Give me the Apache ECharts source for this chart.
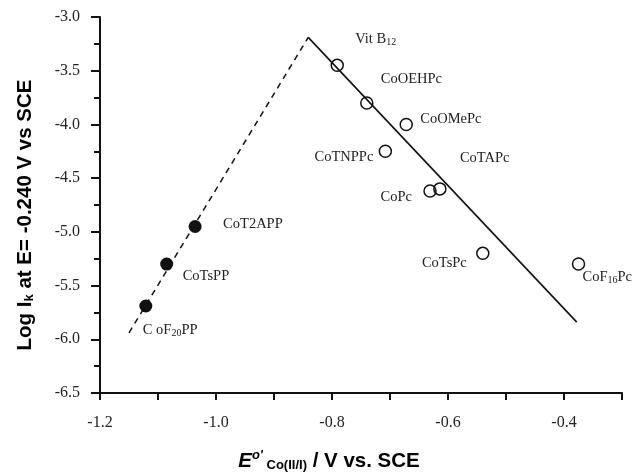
<!DOCTYPE html>
<html><head><meta charset="utf-8">
<script src="https://cdn.jsdelivr.net/npm/echarts@6/dist/echarts.min.js"></script>
<style>html,body{margin:0;padding:0;background:#fff}#c{width:641px;height:474px}</style>
</head><body><div id="c"></div>
<script>
// Porphyrins (filled)
const porphNames = ['CoT2APP', 'CoTsPP', 'C oF{s|20}PP'];
const porphX = [-1.036, -1.085, -1.121];
const porphY = [-4.95, -5.30, -5.69];
// Phthalocyanines etc. (open)
const pcNames = ['Vit B{s|12}', 'CoOEHPc', 'CoOMePc', 'CoTNPPc', 'CoPc', 'CoTAPc', 'CoTsPc', 'CoF{s|16}Pc'];
const pcX = [-0.791, -0.740, -0.672, -0.708, -0.631, -0.614, -0.540, -0.375];
const pcY = [-3.45, -3.80, -4.00, -4.25, -4.62, -4.60, -5.20, -5.30];
// Trend lines
const dashLine = [[-1.15, -5.94], [-0.841, -3.19]];
const solidLine = [[-0.841, -3.19], [-0.378, -5.84]];
// Axis ticks
const xMin = -1.2, xMax = -0.3, xStep = 0.1;
const yMin = -6.5, yMax = -3.0, yStep = 0.5;

// label layout (px offsets from the point, alignment)
const porphLab = [{o:[28,-2],a:'left'},{o:[16,12],a:'left'},{o:[-3,24],a:'left'}];
const pcLab = [{o:[18,-26],a:'left'},{o:[14,-24],a:'left'},{o:[14,-5],a:'left'},{o:[-12,6],a:'right'},
               {o:[-18,6],a:'right'},{o:[20,-31],a:'left'},{o:[-16,10],a:'right'},{o:[4,13],a:'left'}];

const serif = '"Liberation Serif","Times New Roman",serif';
const sans = '"Liberation Sans",Arial,sans-serif';
const richSub = { s: { fontFamily: serif, fontSize: 10, verticalAlign: 'bottom', padding: [6,0,0,0], color:'#222' } };

function build(names, xs, ys, lab) {
  return names.map((n, i) => ({
    value: [xs[i], ys[i]], name: n,
    label: { offset: lab[i].o, align: lab[i].a }
  }));
}
const labelBase = {
  show: true, position: 'inside', verticalAlign: 'middle', formatter: p => p.name,
  fontFamily: serif, fontSize: 14.5, color: '#222', rich: richSub
};

const chart = echarts.init(document.getElementById('c'), null, {renderer: 'canvas'});
chart.setOption({
  animation: false,
  backgroundColor: '#fff',
  grid: { left: 100, right: 19, top: 17, bottom: 81 },
  xAxis: {
    type: 'value', min: xMin, max: xMax, interval: xStep,
    axisLine: { show: true, onZero: false, lineStyle: { color: '#111', width: 2 } },
    axisTick: { show: true, length: 7, lineStyle: { color: '#111', width: 2 } },
    splitLine: { show: false },
    axisLabel: {
      margin: 22, fontFamily: serif, fontSize: 16, color: '#222',
      formatter: v => { const k = Math.round(v * 10); return (k % 2 === 0 && k !== -3) ? (k / 10).toFixed(1) : ''; }
    }
  },
  yAxis: {
    type: 'value', min: yMin, max: yMax, interval: yStep,
    axisLine: { show: true, onZero: false, lineStyle: { color: '#111', width: 2 } },
    axisTick: { show: true, length: 9, lineStyle: { color: '#111', width: 2 } },
    minorTick: { show: true, splitNumber: 2, length: 6, lineStyle: { color: '#111', width: 2 } },
    splitLine: { show: false },
    axisLabel: { margin: 20, fontFamily: serif, fontSize: 16, color: '#222', formatter: v => v.toFixed(1) }
  },
  graphic: [
    { type: 'text', x: 329, y: 461, style: {
        text: '{e|E}{sup|o\'}{sub| Co(II/I)}{m| / V vs. SCE}', align: 'center', verticalAlign: 'middle',
        rich: {
          e: { fontFamily: sans, fontWeight: 'bold', fontStyle: 'italic', fontSize: 20.5, color: '#111' },
          sup: { fontFamily: sans, fontWeight: 'bold', fontStyle: 'italic', fontSize: 13, color: '#111', padding: [0,0,12,0] },
          sub: { fontFamily: sans, fontWeight: 'bold', fontSize: 13, color: '#111', padding: [9,0,0,0] },
          m: { fontFamily: sans, fontWeight: 'bold', fontSize: 20.5, color: '#111' }
        } } },
    { type: 'text', x: 25, y: 215, rotation: Math.PI / 2, style: {
        text: '{m|Log I}{sub|k}{m| at E= -0.240 V vs SCE}', align: 'center', verticalAlign: 'middle',
        rich: {
          m: { fontFamily: sans, fontWeight: 'bold', fontSize: 20.5, color: '#111' },
          sub: { fontFamily: sans, fontWeight: 'bold', fontSize: 13, color: '#111', padding: [9,0,0,0] }
        } } }
  ],
  series: [
    { type: 'line', data: dashLine, showSymbol: false, symbol: 'none', silent: true,
      lineStyle: { color: '#111', width: 1.5, type: [6, 5] } },
    { type: 'line', data: solidLine, showSymbol: false, symbol: 'none', silent: true,
      lineStyle: { color: '#111', width: 1.6 } },
    { type: 'scatter', data: build(porphNames, porphX, porphY, porphLab), symbol: 'circle', symbolSize: 13,
      itemStyle: { color: '#111', opacity: 1 }, label: labelBase },
    { type: 'scatter', data: build(pcNames, pcX, pcY, pcLab), symbol: 'circle', symbolSize: 12,
      itemStyle: { color: 'rgba(255,255,255,0)', borderColor: '#111', borderWidth: 1.5, opacity: 1 }, label: labelBase }
  ]
});
</script></body></html>
